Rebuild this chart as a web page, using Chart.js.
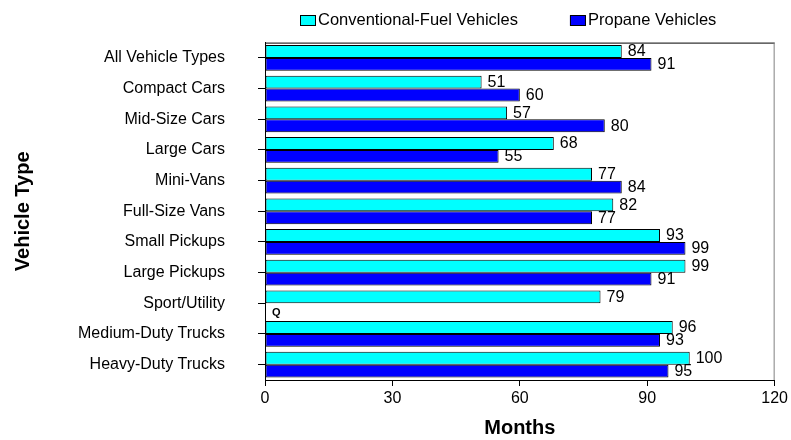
<!DOCTYPE html>
<html>
<head>
  <meta charset="utf-8">
  <title>Vehicle Type - Months</title>
  <style>
    body { margin: 0; background: #fff; }
    #wrap { width: 791px; height: 440px; }
  </style>
</head>
<body>
<script src="https://cdn.jsdelivr.net/npm/chart.js"></script>
<div id="wrap"><canvas id="chart" width="791" height="440"></canvas></div>
<script>
  // Data
  const vehicleTypes = [
    'All Vehicle Types', 'Compact Cars', 'Mid-Size Cars', 'Large Cars', 'Mini-Vans',
    'Full-Size Vans', 'Small Pickups', 'Large Pickups', 'Sport/Utility',
    'Medium-Duty Trucks', 'Heavy-Duty Trucks'
  ];
  const conventionalMonths = [84, 51, 57, 68, 77, 82, 93, 99, 79, 96, 100];
  const propaneMonths = [91, 60, 80, 55, 84, 77, 99, 91, null, 93, 95];
  const conventionalLabels = ['84', '51', '57', '68', '77', '82', '93', '99', '79', '96', '100'];
  const propaneLabels = ['91', '60', '80', '55', '84', '77', '99', '91', 'Q', '93', '95'];
  const monthTicks = [0, 30, 60, 90, 120];

  const FONT = "'Liberation Sans', Arial, sans-serif";

  // value labels to the right of each bar ('Q' sits at the axis when no bar)
  const valueLabels = {
    id: 'valueLabels',
    afterDatasetsDraw(chart) {
      const ctx = chart.ctx;
      const x0 = chart.scales.x.getPixelForValue(0);
      const lists = [conventionalLabels, propaneLabels];
      ctx.save();
      ctx.fillStyle = '#000';
      ctx.textBaseline = 'middle';
      ctx.textAlign = 'left';
      chart.data.datasets.forEach((ds, di) => {
        const meta = chart.getDatasetMeta(di);
        meta.data.forEach((bar, i) => {
          const txt = lists[di][i];
          if (ds.data[i] == null) {
            const ref = chart.getDatasetMeta(0).data[i];
            const y = ref.y + ref.height + 3;
            ctx.font = 'bold 11px ' + FONT;
            ctx.fillText(txt, x0 + 7, y);
          } else {
            ctx.font = '16px ' + FONT;
            ctx.fillText(txt, bar.x + 6, bar.y + 0.5);
          }
        });
      });
      ctx.restore();
    }
  };

  // frame around the plot area + legend at the top
  const frameAndLegend = {
    id: 'frameAndLegend',
    afterDraw(chart) {
      const ctx = chart.ctx;
      const a = chart.chartArea;
      ctx.save();
      ctx.lineWidth = 1;
      ctx.strokeStyle = '#000';
      ctx.beginPath();
      ctx.moveTo(a.left, a.top + 0.5);
      ctx.lineTo(a.right, a.top + 0.5);
      ctx.stroke();
      ctx.strokeStyle = '#808080';
      ctx.beginPath();
      ctx.moveTo(a.right - 0.5, a.top);
      ctx.lineTo(a.right - 0.5, a.bottom);
      ctx.stroke();

      ctx.font = '16.5px ' + FONT;
      ctx.textBaseline = 'middle';
      ctx.textAlign = 'left';
      let x = 300;
      chart.data.datasets.forEach(ds => {
        ctx.fillStyle = ds.backgroundColor;
        ctx.fillRect(x, 15.5, 16, 10);
        ctx.strokeStyle = '#000';
        ctx.strokeRect(x + 0.5, 15.5, 15, 10);
        ctx.fillStyle = '#000';
        ctx.fillText(ds.label, x + 18, 20.5);
        x += 18 + ctx.measureText(ds.label).width + 52;
      });
      ctx.restore();
    }
  };

  new Chart(document.getElementById('chart'), {
    type: 'bar',
    data: {
      labels: vehicleTypes,
      datasets: [
        {
          label: 'Conventional-Fuel Vehicles',
          data: conventionalMonths,
          backgroundColor: '#00FFFF',
          borderColor: '#000',
          borderWidth: 1,
          borderSkipped: false,
          categoryPercentage: 0.84,
          barPercentage: 1.0
        },
        {
          label: 'Propane Vehicles',
          data: propaneMonths,
          backgroundColor: '#0000FF',
          borderColor: '#000',
          borderWidth: 1,
          borderSkipped: false,
          categoryPercentage: 0.84,
          barPercentage: 1.0
        }
      ]
    },
    options: {
      indexAxis: 'y',
      responsive: false,
      animation: false,
      layout: { padding: { top: 37, right: 14, left: 0, bottom: 0 } },
      plugins: {
        legend: { display: false },
        tooltip: { enabled: false },
        title: { display: false }
      },
      scales: {
        x: {
          min: 0,
          max: 120,
          afterBuildTicks: s => { s.ticks = monthTicks.map(v => ({ value: v })); },
          afterFit: s => { s.height = 60; },
          border: { display: true, color: '#000', width: 1 },
          grid: { drawOnChartArea: false, tickLength: 6, color: '#000' },
          ticks: { color: '#000', font: { family: FONT, size: 16 }, padding: 3, maxRotation: 0 },
          title: {
            display: true,
            text: 'Months',
            color: '#000',
            font: { family: FONT, size: 20, weight: 'bold' },
            padding: { top: 0, bottom: 0 }
          }
        },
        y: {
          afterFit: s => { s.width = 265; },
          border: { display: true, color: '#000', width: 1 },
          grid: { offset: false, drawOnChartArea: false, tickLength: 7, color: '#000' },
          ticks: { color: '#000', font: { family: FONT, size: 16 }, padding: 33, autoSkip: false },
          title: {
            display: true,
            text: 'Vehicle Type',
            color: '#000',
            font: { family: FONT, size: 20, weight: 'bold' },
            padding: { top: 11, bottom: 0 }
          }
        }
      }
    },
    plugins: [valueLabels, frameAndLegend]
  });
</script>
</body>
</html>
